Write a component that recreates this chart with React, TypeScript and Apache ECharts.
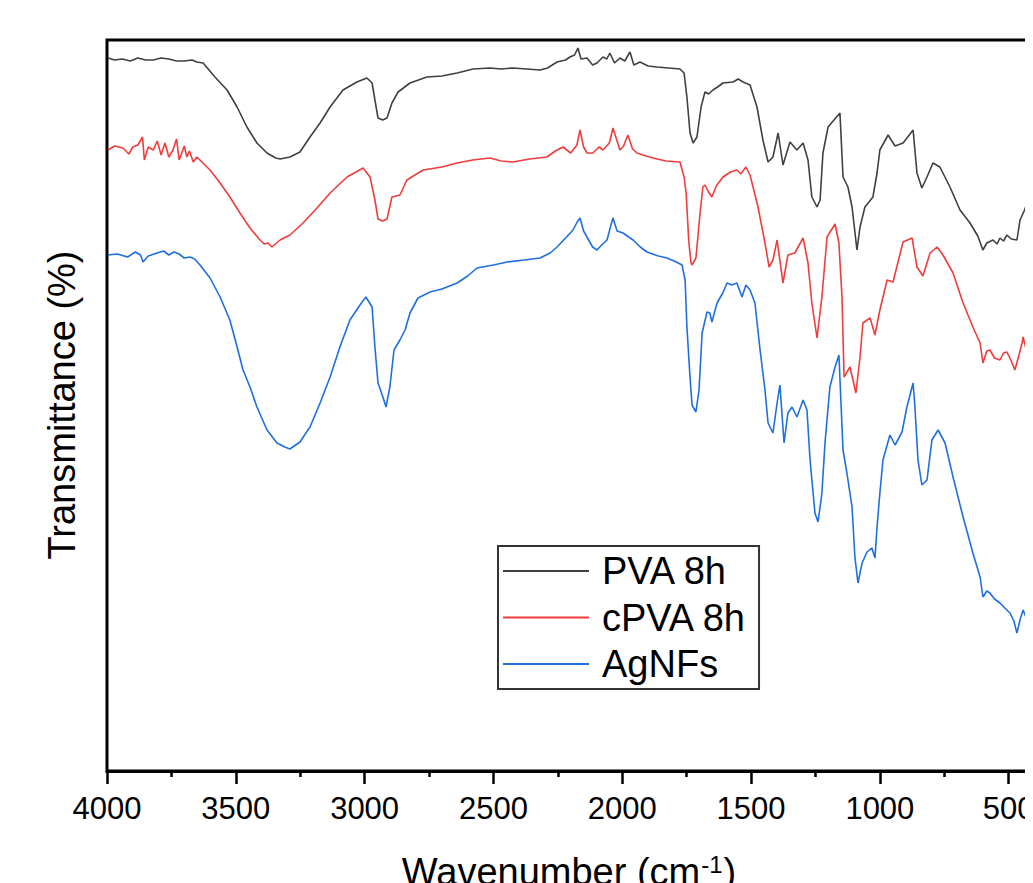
import React, { useEffect, useRef } from "react";
import * as echarts from "echarts";

// FTIR spectra: [wavenumber (cm-1), transmittance (arb. units, offset traces)]
const pva8h: [number, number][] = [
  [3996, 713], [3970, 711], [3940, 712], [3910, 710], [3880, 713], [3850, 711], [3820, 711],
  [3790, 713], [3760, 712], [3730, 710], [3700, 710], [3670, 711], [3651, 709], [3627, 708],
  [3581, 694], [3534, 681], [3495, 664], [3457, 644], [3418, 628], [3379, 618], [3345, 613],
  [3328, 612], [3290, 614], [3251, 619], [3212, 634], [3173, 648], [3134, 664], [3084, 681],
  [3030, 689], [2991, 693], [2971, 688], [2960, 671], [2948, 653], [2930, 651], [2913, 653],
  [2894, 668], [2870, 679], [2824, 688], [2758, 694], [2700, 695], [2641, 698], [2579, 702],
  [2513, 703], [2470, 702], [2424, 703], [2370, 702], [2319, 701], [2290, 703], [2253, 709],
  [2220, 711], [2203, 714], [2185, 716], [2172, 723], [2160, 712], [2137, 713], [2115, 706],
  [2098, 708], [2075, 714], [2060, 712], [2048, 718], [2030, 708], [2009, 713], [1990, 710],
  [1970, 719], [1955, 706], [1931, 709], [1900, 705], [1865, 704], [1820, 703], [1776, 702],
  [1760, 698], [1749, 674], [1737, 638], [1725, 628], [1710, 634], [1694, 664], [1679, 679],
  [1665, 677], [1648, 681], [1630, 684], [1609, 688], [1570, 689], [1550, 692], [1531, 689],
  [1504, 686], [1477, 664], [1454, 631], [1434, 609], [1415, 614], [1395, 638], [1376, 606],
  [1349, 629], [1322, 621], [1298, 628], [1279, 611], [1264, 574], [1244, 564], [1232, 571],
  [1221, 618], [1201, 644], [1175, 652], [1155, 658], [1143, 594], [1124, 584], [1108, 564],
  [1089, 521], [1077, 544], [1058, 564], [1027, 574], [1011, 598], [1000, 621], [968, 636],
  [941, 625], [910, 628], [871, 641], [856, 598], [837, 583], [817, 594], [794, 608],
  [767, 604], [728, 584], [689, 561], [650, 548], [620, 535], [600, 521], [585, 528],
  [561, 531], [545, 527], [534, 533], [520, 530], [507, 536], [490, 532], [468, 531],
  [456, 551], [440, 560], [429, 568], [425, 543], [417, 574], [410, 658], [405, 640],
];

const cpva8h: [number, number][] = [
  [3996, 621], [3970, 625], [3938, 623], [3915, 617], [3900, 624], [3880, 626], [3862, 634],
  [3855, 611], [3840, 624], [3820, 621], [3805, 630], [3790, 616], [3775, 628], [3760, 614],
  [3744, 621], [3730, 632], [3720, 611], [3700, 625], [3690, 614], [3680, 620], [3665, 609],
  [3651, 614], [3620, 606], [3600, 601], [3561, 588], [3523, 574], [3484, 558], [3445, 543],
  [3406, 531], [3390, 527], [3375, 528], [3360, 524], [3328, 531], [3290, 536], [3239, 548],
  [3185, 563], [3134, 578], [3068, 594], [3006, 603], [2979, 594], [2960, 571], [2948, 552],
  [2930, 550], [2913, 552], [2894, 574], [2863, 576], [2836, 591], [2773, 601], [2700, 604],
  [2641, 608], [2580, 611], [2513, 613], [2470, 610], [2424, 609], [2360, 612], [2292, 614],
  [2260, 620], [2230, 624], [2200, 618], [2176, 626], [2164, 641], [2150, 624], [2137, 618],
  [2114, 618], [2090, 624], [2075, 621], [2050, 628], [2036, 643], [2020, 630], [2009, 621],
  [1995, 625], [1978, 636], [1960, 622], [1943, 618], [1920, 616], [1881, 613], [1830, 610],
  [1776, 609], [1760, 594], [1752, 578], [1742, 530], [1733, 508], [1729, 506], [1714, 513],
  [1698, 558], [1687, 584], [1679, 586], [1665, 579], [1652, 574], [1635, 585], [1609, 594],
  [1580, 599], [1555, 601], [1540, 597], [1520, 604], [1504, 596], [1473, 564], [1446, 528],
  [1430, 504], [1415, 511], [1399, 531], [1376, 488], [1357, 516], [1330, 518], [1298, 533],
  [1279, 508], [1264, 468], [1244, 433], [1225, 474], [1205, 534], [1174, 547], [1159, 528],
  [1147, 474], [1139, 394], [1116, 404], [1093, 378], [1077, 414], [1066, 448], [1038, 453],
  [1019, 436], [1000, 461], [972, 491], [949, 489], [910, 529], [875, 533], [856, 504],
  [833, 495], [805, 518], [778, 524], [755, 516], [716, 498], [677, 468], [639, 444],
  [611, 428], [600, 408], [585, 420], [573, 421], [555, 413], [534, 411], [520, 418],
  [507, 419], [490, 410], [476, 401], [460, 416], [448, 428], [444, 434], [429, 418],
  [417, 371], [413, 361], [406, 574],
];

const agnfs: [number, number][] = [
  [3996, 516], [3960, 517], [3920, 514], [3890, 519], [3870, 516], [3860, 509], [3840, 515],
  [3806, 518], [3780, 520], [3760, 516], [3740, 519], [3720, 517], [3700, 513], [3678, 514],
  [3660, 512], [3639, 506], [3600, 493], [3561, 474], [3523, 451], [3495, 424], [3472, 401],
  [3445, 384], [3418, 364], [3379, 341], [3340, 328], [3310, 324], [3290, 322], [3251, 329],
  [3212, 344], [3173, 368], [3134, 394], [3096, 424], [3057, 451], [3018, 466], [2995, 474],
  [2971, 464], [2960, 424], [2948, 388], [2929, 374], [2917, 364], [2902, 384], [2886, 421],
  [2863, 431], [2843, 441], [2824, 458], [2793, 473], [2746, 479], [2700, 482], [2641, 488],
  [2600, 495], [2564, 503], [2500, 506], [2447, 509], [2380, 511], [2319, 513], [2280, 518],
  [2253, 524], [2220, 533], [2191, 541], [2175, 549], [2164, 553], [2150, 540], [2137, 534],
  [2115, 524], [2098, 521], [2080, 526], [2059, 531], [2045, 545], [2036, 553], [2020, 540],
  [1997, 538], [1975, 534], [1958, 531], [1930, 524], [1904, 519], [1860, 515], [1826, 513],
  [1790, 509], [1768, 506], [1756, 491], [1749, 444], [1737, 394], [1729, 366], [1714, 359],
  [1702, 381], [1690, 438], [1671, 459], [1660, 458], [1652, 449], [1632, 468], [1610, 478],
  [1593, 488], [1575, 486], [1555, 488], [1535, 474], [1520, 486], [1504, 481], [1485, 468],
  [1465, 421], [1446, 381], [1434, 348], [1415, 338], [1399, 368], [1388, 386], [1372, 328],
  [1357, 358], [1341, 364], [1322, 354], [1298, 371], [1283, 361], [1271, 311], [1252, 258],
  [1240, 249], [1225, 278], [1213, 328], [1194, 384], [1174, 404], [1159, 416], [1143, 321],
  [1128, 298], [1108, 264], [1097, 214], [1085, 188], [1069, 208], [1050, 219], [1031, 223],
  [1019, 213], [1011, 244], [1000, 278], [988, 311], [961, 336], [941, 326], [914, 339],
  [895, 364], [871, 388], [864, 364], [852, 311], [837, 286], [817, 291], [798, 331],
  [774, 341], [747, 328], [716, 294], [677, 254], [639, 218], [611, 194], [600, 174],
  [585, 180], [573, 178], [555, 172], [534, 168], [515, 163], [495, 158], [480, 150],
  [468, 138], [455, 152], [444, 161], [429, 151], [417, 171], [413, 141], [410, 198],
];

const seriesNames = ["PVA 8h", "cPVA 8h", "AgNFs"];
const seriesColors = ["#404040", "#F03C3C", "#1F6FE0"];
const xTickStep = 500;
const xAxisRange = [0, 4000];
const yAxisRange = [0, 731];

export default function App() {
  const ref = useRef<HTMLDivElement>(null);

  useEffect(() => {
    document.body.style.overflow = "hidden";
    document.documentElement.style.overflow = "hidden";
    if (!ref.current) return;
    const chart = echarts.init(ref.current, undefined, { renderer: "svg" });
    const font = "'Liberation Sans', Arial, sans-serif";
    const datasets = [pva8h, cpva8h, agnfs];
    chart.setOption({
      animation: false,
      backgroundColor: "#ffffff",
      grid: {
        left: 99,
        top: 32,
        width: 1030.5,
        height: 731,
        show: true,
        borderColor: "#000",
        borderWidth: 3,
        backgroundColor: "transparent",
      },
      xAxis: {
        type: "value",
        inverse: true,
        min: xAxisRange[0],
        max: xAxisRange[1],
        interval: xTickStep,
        axisLine: { show: true, onZero: false, lineStyle: { color: "#000", width: 3 } },
        axisTick: { show: true, inside: false, length: 13, lineStyle: { color: "#000", width: 2.5 } },
        minorTick: { show: true, splitNumber: 2, length: 6, lineStyle: { color: "#000", width: 2.5 } },
        splitLine: { show: false },
        minorSplitLine: { show: false },
        axisLabel: {
          show: true,
          margin: 22,
          fontSize: 31,
          color: "#000",
          fontFamily: font,
          formatter: (v: number) => (v === 0 ? "" : String(v)),
        },
      },
      yAxis: {
        type: "value",
        min: yAxisRange[0],
        max: yAxisRange[1],
        axisLine: { show: true, lineStyle: { color: "#000", width: 3 } },
        axisTick: { show: false },
        axisLabel: { show: false },
        splitLine: { show: false },
      },
      legend: {
        show: true,
        orient: "vertical",
        left: 490,
        top: 538,
        padding: [6, 12, 6, 5],
        itemGap: 8.5,
        itemWidth: 86,
        itemHeight: 2,
        icon: "rect",
        borderColor: "#333",
        borderWidth: 2,
        backgroundColor: "#fff",
        selectedMode: false,
        data: seriesNames,
        textStyle: { fontSize: 38, color: "#000", fontFamily: font, padding: [0, 0, 0, 8] },
      },
      graphic: [
        {
          type: "text",
          x: 54,
          y: 397,
          rotation: Math.PI / 2,
          style: {
            text: "Transmittance (%)",
            fontSize: 38,
            fontFamily: font,
            fill: "#000",
            align: "center",
            verticalAlign: "middle",
          },
        },
        {
          type: "text",
          x: 561,
          y: 864,
          style: {
            text: "{a|Wavenumber (cm}{s|-1}{a|)}",
            fontFamily: font,
            fill: "#000",
            align: "center",
            verticalAlign: "middle",
            rich: {
              a: { fontSize: 38, fontFamily: font, fill: "#000" },
              s: { fontSize: 24, fontFamily: font, fill: "#000", verticalAlign: "top", padding: [0, 1, 16, 1] },
            },
          },
        },
      ],
      series: datasets.map((d, i) => ({
        name: seriesNames[i],
        type: "line",
        data: d,
        symbol: "none",
        showSymbol: false,
        smooth: false,
        color: seriesColors[i],
        lineStyle: { color: seriesColors[i], width: 1.6 },
        z: 3 - i,
      })),
    });
    return () => {
      chart.dispose();
    };
  }, []);

  return (
    <div style={{ width: 1200, height: 875, overflow: "hidden", position: "relative" }}>
      <div ref={ref} style={{ width: 1200, height: 875 }} />
    </div>
  );
}
